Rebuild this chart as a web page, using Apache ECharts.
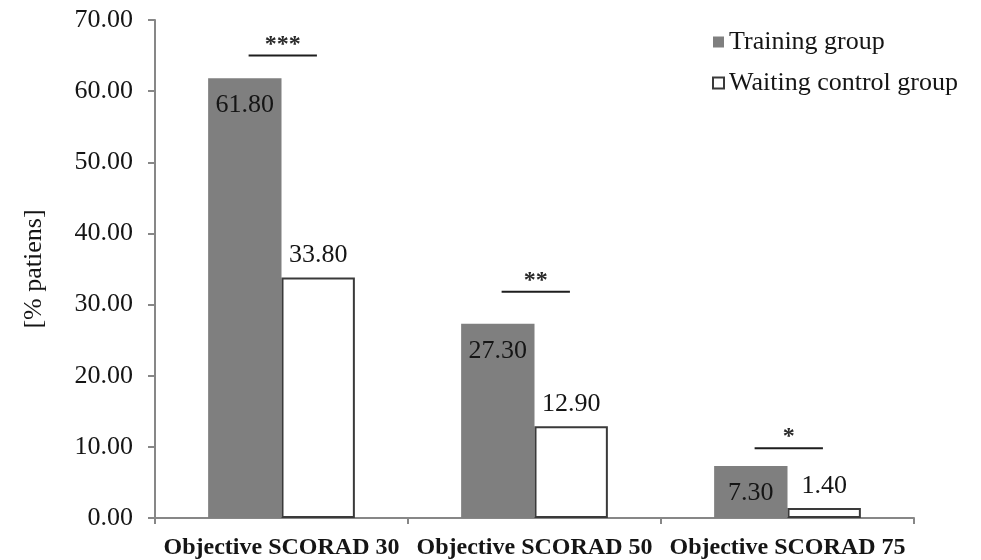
<!DOCTYPE html>
<html>
<head>
<meta charset="utf-8">
<script src="https://cdn.jsdelivr.net/npm/echarts@6/dist/echarts.min.js"></script>
<style>
  html, body { margin: 0; padding: 0; background: #fff; }
  #chart { width: 981px; height: 560px; }
</style>
</head>
<body>
<div id="chart"></div>
<script>
// Share of patients reaching each objective SCORAD improvement threshold
const categories = ['Objective SCORAD 30', 'Objective SCORAD 50', 'Objective SCORAD 75'];
const trainingGroup = [61.8, 27.3, 7.3];
const waitingControlGroup = [33.8, 12.9, 1.4];
// Significance brackets: category index, bracket height (axis units), marker
const significance = [
  [0, 65, '***'],
  [1, 31.8, '**'],
  [2, 9.8, '*']
];

const SERIF = '"Liberation Serif", "Times New Roman", serif';
const TEXT = '#151515';
const AXIS = '#878787';

const chart = echarts.init(document.getElementById('chart'), null, { renderer: 'canvas' });

chart.setOption({
  animation: false,
  backgroundColor: '#ffffff',
  grid: { left: 155, right: 67, top: 20, bottom: 42, containLabel: false },
  legend: {
    orient: 'vertical',
    left: 707,
    top: 24,
    itemWidth: 11,
    itemHeight: 11,
    itemGap: 15,
    icon: 'rect',
    textStyle: { fontFamily: SERIF, fontSize: 26, color: TEXT, padding: [0, 0, 0, 0] },
    data: ['Training group', 'Waiting control group']
  },
  xAxis: {
    type: 'category',
    data: categories,
    axisLine: { lineStyle: { color: AXIS, width: 2 } },
    axisTick: { show: true, length: 6, lineStyle: { color: AXIS, width: 2 } },
    axisLabel: {
      interval: 0,
      hideOverlap: false,
      fontFamily: SERIF, fontSize: 24, fontWeight: 'bold', color: TEXT, margin: 18
    }
  },
  yAxis: {
    type: 'value',
    min: 0,
    max: 70,
    interval: 10,
    name: '[% patiens]',
    nameLocation: 'middle',
    nameGap: 108,
    nameRotate: 90,
    nameTextStyle: { fontFamily: SERIF, fontSize: 26, color: TEXT, padding: [0, 0, 0, 0] },
    axisLine: { show: true, lineStyle: { color: AXIS, width: 2 } },
    axisTick: { show: true, length: 7, lineStyle: { color: AXIS, width: 2 } },
    splitLine: { show: false },
    axisLabel: {
      fontFamily: SERIF, fontSize: 26, color: TEXT, margin: 22,
      formatter: v => v.toFixed(2)
    }
  },
  series: [
    {
      name: 'Training group',
      type: 'bar',
      data: trainingGroup,
      barWidth: '29%',
      barGap: '0%',
      itemStyle: { color: '#7f7f7f' },
      label: {
        show: true,
        position: 'insideTop',
        distance: 14,
        fontFamily: SERIF, fontSize: 26, color: TEXT,
        formatter: p => p.value.toFixed(2)
      }
    },
    {
      name: 'Waiting control group',
      type: 'bar',
      data: waitingControlGroup,
      barWidth: '29%',
      barGap: '0%',
      itemStyle: { color: '#ffffff', borderColor: '#3a3a3a', borderWidth: 2 },
      label: {
        show: true,
        position: 'top',
        distance: 9,
        fontFamily: SERIF, fontSize: 26, color: TEXT,
        formatter: p => p.value.toFixed(2)
      }
    },
    {
      type: 'custom',
      name: 'significance',
      data: significance,
      silent: true,
      z: 5,
      renderItem: (params, api) => {
        const pt = api.coord([api.value(0), api.value(1)]);
        const band = api.size([1, 0])[0];
        const x1 = pt[0] - band * 0.13;
        const x2 = pt[0] + band * 0.14;
        const mid = (x1 + x2) / 2;
        return {
          type: 'group',
          children: [
            {
              type: 'line',
              shape: { x1: x1, y1: pt[1], x2: x2, y2: pt[1] },
              style: { stroke: '#1e1e1e', lineWidth: 2 }
            },
            {
              type: 'text',
              style: {
                text: significance[params.dataIndex][2],
                x: mid,
                y: pt[1] + 1,
                align: 'center',
                verticalAlign: 'bottom',
                font: 'bold 24px ' + SERIF,
                fill: '#2a2a2a'
              }
            }
          ]
        };
      }
    }
  ]
});
</script>
</body>
</html>
